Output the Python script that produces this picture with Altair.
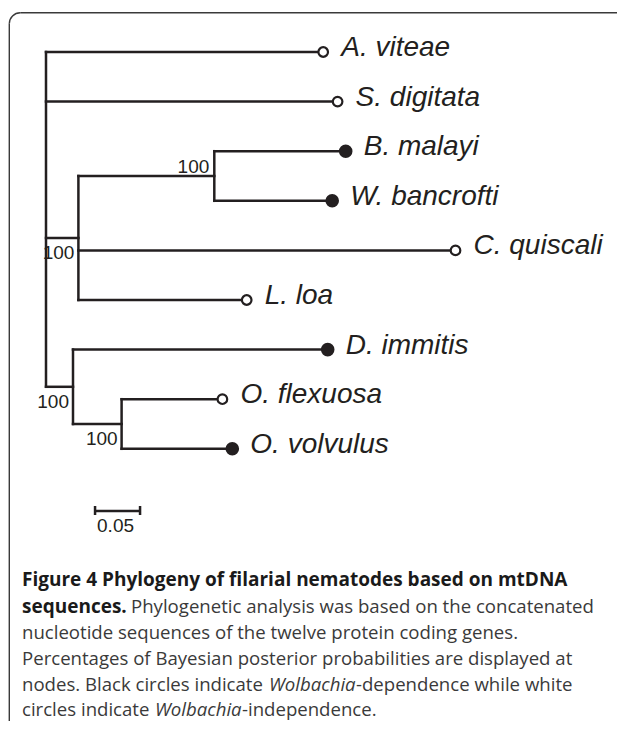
import altair as alt
import pandas as pd

# ---------------- data ----------------
# tree: node, parent, branch length (substitutions / site)
node_ids   = ["root", "A", "S", "BWCL", "BW", "B", "W", "C", "L", "DO", "D", "O", "Of", "Ov"]
parent_ids = [None, "root", "root", "root", "BWCL", "BW", "BW", "BWCL", "BWCL", "root", "DO", "DO", "O", "O"]
branch_len = [0.0, 0.308, 0.324, 0.036, 0.151, 0.146, 0.131, 0.419, 0.187, 0.030, 0.283, 0.054, 0.112, 0.123]

# leaves, top to bottom
leaf_ids    = ["A", "S", "B", "W", "C", "L", "D", "Of", "Ov"]
taxon_names = ["A. viteae", "S. digitata", "B. malayi", "W. bancrofti", "C. quiscali",
               "L. loa", "D. immitis", "O. flexuosa", "O. volvulus"]
wolbachia   = ["independent", "independent", "dependent", "dependent", "independent",
               "independent", "dependent", "independent", "dependent"]

# Bayesian posterior support (%)
support_nodes = ["BW", "BWCL", "DO", "O"]
support_vals  = ["100", "100", "100", "100"]
support_side  = ["above", "below", "below", "below"]

scale_len = 0.05
scale_label = "0.05"

caption_lines = [
    [("bold", "Figure 4 Phylogeny of filarial nematodes based on mtDNA")],
    [("bold", "sequences."), ("regular", "Phylogenetic analysis was based on the concatenated")],
    [("regular", "nucleotide sequences of the twelve protein coding genes.")],
    [("regular", "Percentages of Bayesian posterior probabilities are displayed at")],
    [("regular", "nodes. Black circles indicate "), ("italic", "Wolbachia"), ("regular", "-dependence while white")],
    [("regular", "circles indicate "), ("italic", "Wolbachia"), ("regular", "-independence.")],
]

# ---------------- layout ----------------
W, H = 609, 713
INK = "#231f20"
FRAME = "#3a3a3a"

par = dict(zip(node_ids, parent_ids))
blen = dict(zip(node_ids, branch_len))
children = {n: [] for n in node_ids}
for n, p in zip(node_ids, parent_ids):
    if p is not None:
        children[p].append(n)

xpos = {}
def x_of(n):
    if n not in xpos:
        xpos[n] = 0.0 if par[n] is None else x_of(par[n]) + blen[n]
    return xpos[n]

ypos = {l: float(i) for i, l in enumerate(leaf_ids)}
def y_of(n):
    if n not in ypos:
        ys = [y_of(c) for c in children[n]]
        ypos[n] = (min(ys) + max(ys)) / 2.0
    return ypos[n]

for n in node_ids:
    x_of(n); y_of(n)

segs = []
for n in node_ids:
    if par[n] is not None:
        segs.append({"x0": xpos[par[n]], "x1": xpos[n], "y0": ypos[n], "y1": ypos[n]})
    if children[n]:
        ys = [ypos[c] for c in children[n]]
        segs.append({"x0": xpos[n], "x1": xpos[n], "y0": min(ys), "y1": max(ys)})
seg_df = pd.DataFrame(segs)

leaf_df = pd.DataFrame({
    "x": [xpos[l] for l in leaf_ids],
    "y": [ypos[l] for l in leaf_ids],
    "name": taxon_names,
    "wol": wolbachia,
})

sup_df = pd.DataFrame({
    "x": [xpos[n] for n in support_nodes],
    "y": [ypos[n] for n in support_nodes],
    "label": support_vals,
    "side": support_side,
})

# pixel mapping: x_px = 38 + 900*d ; y_px = 44 + 49.6*i
xs = alt.Scale(domain=[-38 / 900, (W - 38) / 900], nice=False, zero=False)
ys_ = alt.Scale(domain=[-44 / 49.6, (H - 44) / 49.6], nice=False, zero=False, reverse=True)

X = lambda f: alt.X(f, type="quantitative", scale=xs, axis=None)
Y = lambda f: alt.Y(f, type="quantitative", scale=ys_, axis=None)

branches = alt.Chart(seg_df).mark_rule(color=INK, strokeWidth=2.5, strokeCap="square").encode(
    x=X("x0"), x2=alt.X2("x1"), y=Y("y0"), y2=alt.Y2("y1")
)

open_pts = alt.Chart(leaf_df).transform_filter(alt.datum.wol == "independent").mark_point(
    shape="circle", filled=True, fill="white", stroke=INK, strokeWidth=2.2, size=92, opacity=1
).encode(x=X("x"), y=Y("y"))

filled_pts = alt.Chart(leaf_df).transform_filter(alt.datum.wol == "dependent").mark_point(
    shape="circle", filled=True, fill=INK, strokeWidth=0, size=185, opacity=1
).encode(x=X("x"), y=Y("y"))

names = alt.Chart(leaf_df).mark_text(
    align="left", baseline="alphabetic", dx=18, dy=4, font="Liberation Sans",
    fontStyle="italic", fontSize=28, color=INK
).encode(x=X("x"), y=Y("y"), text="name:N")

sup_above = alt.Chart(sup_df).transform_filter(alt.datum.side == "above").mark_text(
    align="right", baseline="alphabetic", dx=-5, dy=-3, font="Liberation Sans", fontSize=19, color=INK
).encode(x=X("x"), y=Y("y"), text="label:N")

sup_below = alt.Chart(sup_df).transform_filter(alt.datum.side == "below").mark_text(
    align="right", baseline="alphabetic", dx=-4, dy=21, font="Liberation Sans", fontSize=19, color=INK
).encode(x=X("x"), y=Y("y"), text="label:N")

# scale bar
sb_start = 0.0545
sb_df = pd.DataFrame({"x0": [sb_start], "x1": [sb_start + scale_len], "label": [scale_label]})
sb_line = alt.Chart(sb_df).mark_rule(color=INK, strokeWidth=2.5).encode(
    x=X("x0"), x2=alt.X2("x1"), y=alt.value(503)
)
sb_ticks = alt.Chart(pd.DataFrame({"x": [sb_start, sb_start + scale_len]})).mark_rule(
    color=INK, strokeWidth=2.5).encode(x=X("x"), y=alt.value(498), y2=alt.value(507))
sb_text = alt.Chart(sb_df).mark_text(
    align="left", baseline="alphabetic", dx=2, font="Liberation Sans", fontSize=19, color=INK
).encode(x=X("x0"), y=alt.value(524), text="label:N")

# frame: top edge, left edge and rounded top-left corner (open to right and bottom)
one = pd.DataFrame({"k": [0]})
frame_top = alt.Chart(one).mark_rule(color=FRAME, strokeWidth=1.4).encode(
    x=alt.value(12.3), x2=alt.value(W + 10), y=alt.value(4.7))
frame_left = alt.Chart(one).mark_rule(color=FRAME, strokeWidth=1.4).encode(
    x=alt.value(1.3), y=alt.value(15.7), y2=alt.value(H + 10))
frame_corner = alt.Chart(one).mark_arc(
    color=FRAME, radius=11.7, radius2=10.3, theta=4.712389, theta2=6.283185
).encode(x=alt.value(12.3), y=alt.value(15.7))

# caption
line_base = [578, 604.5, 631, 657, 683, 708]
seg_x = [[14], [14, 123], [14], [14], [14, 261, 348], [14, 147, 234]]
cap_rows = []
for li, segs_ in enumerate(caption_lines):
    for si, (style, txt) in enumerate(segs_):
        cap_rows.append({"px": seg_x[li][si], "py": line_base[li], "style": style, "t": txt})
cap_df = pd.DataFrame(cap_rows)

def cap_layer(style, size, **kw):
    return alt.Chart(cap_df).transform_filter(alt.datum.style == style).mark_text(
        align="left", baseline="alphabetic", font="Open Sans", fontSize=size, **kw
    ).encode(x=alt.X("px:Q", scale=None), y=alt.Y("py:Q", scale=None), text="t:N")

cap_bold = cap_layer("bold", 19.0, fontWeight="bold", color="#1a1a1a")
cap_reg = cap_layer("regular", 18.6, color="#3a3a3a")
cap_it = cap_layer("italic", 18.6, fontStyle="italic", color="#3a3a3a")

chart = alt.layer(
    frame_top, frame_left, frame_corner, branches, open_pts, filled_pts, names,
    sup_above, sup_below, sb_line, sb_ticks, sb_text, cap_bold, cap_reg, cap_it
).properties(
    width=W, height=H, padding=0, autosize=alt.AutoSizeParams(type="none"), background="white"
).configure_view(strokeWidth=0)

chart.save("out.html", embed_options={"renderer": "svg", "actions": False})
